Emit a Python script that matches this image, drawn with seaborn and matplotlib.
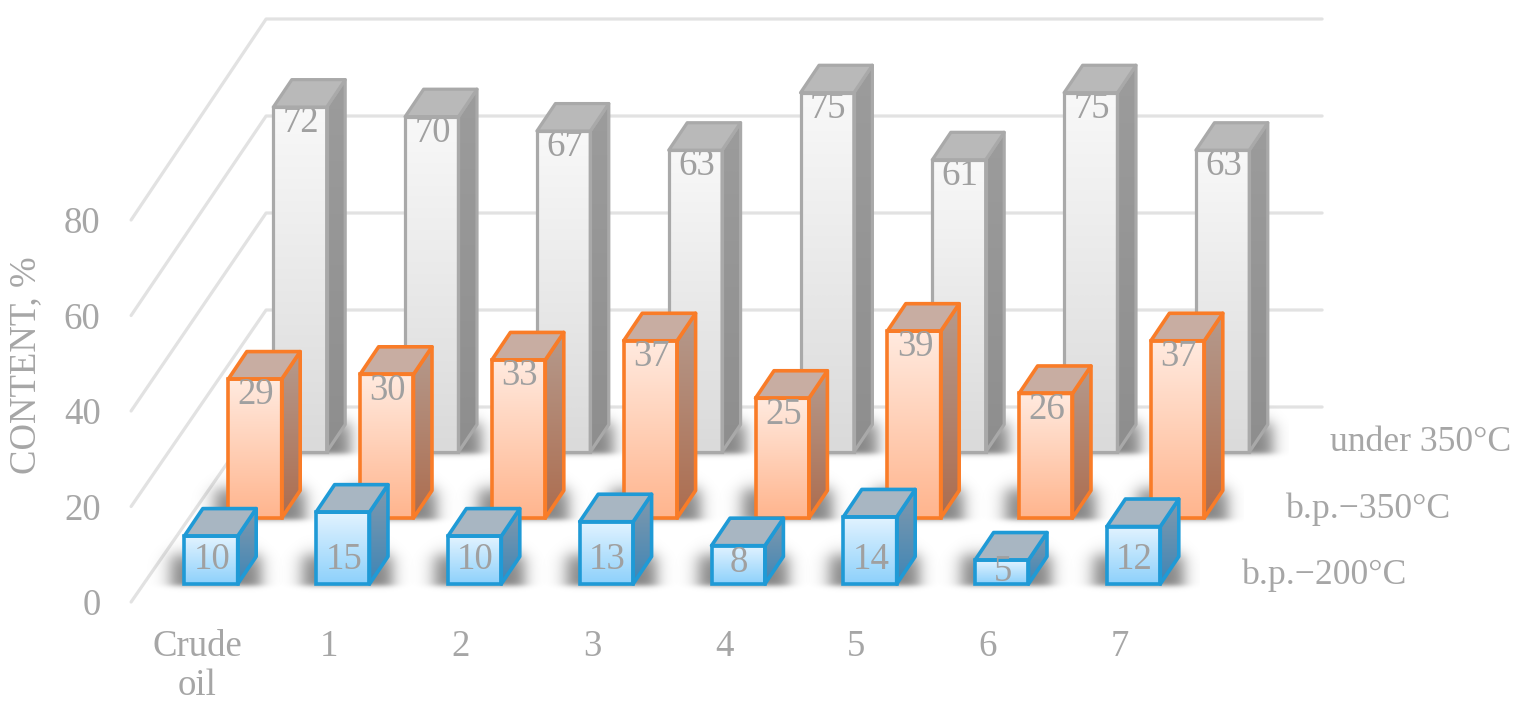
import numpy as np
import pandas as pd
import seaborn as sns
import matplotlib.pyplot as plt
from matplotlib.colors import LinearSegmentedColormap
from matplotlib.patches import Polygon

samples = ["Crude\noil", "1", "2", "3", "4", "5", "6", "7"]
under_350 = [72, 70, 67, 63, 75, 61, 75, 63]
bp_350 = [29, 30, 33, 37, 25, 39, 26, 37]
bp_200 = [10, 15, 10, 13, 8, 14, 5, 12]
y_ticks = [0, 20, 40, 60, 80]

W, H = 1525, 712
STEP = 131.8      # px per category
UNIT = 4.79       # px per % on the bars
BAR = 0.405
DEPTH_X = 18.5 / STEP
DEPTH_Y = 27.5 / UNIT
GREY = "#a6a6a6"
FONT = 26.5

sns.set_theme(style="white")
plt.rcParams["font.family"] = ["Liberation Serif", "DejaVu Serif"]
plt.rcParams["font.size"] = FONT

fig = plt.figure(figsize=(W / 100, H / 100), dpi=100, facecolor="white")


def pixel_axes(first_centre, base_y, zorder, y_low=-10, y_high=90, unit=UNIT):
    left = first_centre - STEP / 2
    bottom = base_y - y_low * unit
    ax = fig.add_axes([left / W, (H - bottom) / H, 8 * STEP / W, (y_high - y_low) * unit / H])
    ax.patch.set_alpha(0)
    ax.set_zorder(zorder)
    return ax


def gradient(ax, clip, x0, x1, y0, y1, top, bottom, z):
    cmap = LinearSegmentedColormap.from_list("g", [top, bottom])
    im = ax.imshow(np.linspace(0, 1, 64)[:, None], extent=(x0, x1, y0, y1), origin="upper",
                   cmap=cmap, aspect="auto", zorder=z, interpolation="bilinear")
    im.set_clip_path(clip)


def shadow(ax, x0, x1):
    # soft floor shadow, built from two smooth steps
    xs = np.linspace(x0 - 50 / STEP, x1 + 50 / STEP, 120)
    ys = np.linspace(-16 / UNIT, 60 / UNIT, 90)
    ax_x = 0.5 * (np.tanh((xs - (x0 - 14 / STEP)) / (10 / STEP)) - np.tanh((xs - (x1 + 5 / STEP)) / (9 / STEP)))
    ax_y = 0.5 * (np.tanh((ys + 2 / UNIT) / (3 / UNIT)) - np.tanh((ys - 29 / UNIT) / (9 / UNIT)))
    rgba = np.zeros((90, 120, 4))
    rgba[..., 3] = 0.48 * np.outer(ax_y, ax_x)
    ax.imshow(rgba, extent=(xs[0], xs[-1], ys[0], ys[-1]), origin="lower", aspect="auto",
              zorder=0, interpolation="bilinear")


# walls and value axis
FRONT_BASE = 602
BACK_BASE = 407
BACK_UNIT = 4.85
FRONT_UNIT = 4.775
bg = pixel_axes(197, FRONT_BASE, 0, y_low=0, y_high=80, unit=FRONT_UNIT)
bg.set_xlim(-0.5, 7.5)
bg.set_ylim(0, 80)
for v in y_ticks:
    back_y = (FRONT_BASE - BACK_BASE + BACK_UNIT * v) / FRONT_UNIT
    back_x = -0.5 + 135 / STEP
    end_x = -0.5 + (1322 - 131) / STEP
    bg.plot([-0.5, back_x, end_x], [v, back_y, back_y], color="#e2e2e2", lw=2.3,
            clip_on=False, solid_joinstyle="round")
sns.despine(ax=bg, left=True, bottom=True, right=True, top=True)
bg.set_yticks(y_ticks)
bg.set_xticks(range(len(samples)))
bg.set_xticklabels(samples, color=GREY, linespacing=1.17)
bg.tick_params(axis="y", length=0, pad=22, labelcolor=GREY, labelsize=FONT)
bg.tick_params(axis="x", length=0, pad=20, labelcolor=GREY, labelsize=FONT)
fig.text(26 / W, 1 - 365 / H, "CONTENT, %", rotation=90, color=GREY, fontsize=FONT, ha="center", va="center")

rows = [
    dict(name="under 350°C", values=under_350, centre=300, base=452, edge="#a9a9a9", lw=2.3,
         front=("#f8f8f8", "#dadada"), side=("#9c9c9c", "#8e8e8e"), top="#b9b9b9", z=1, label_z=3),
    dict(name="b.p.−350°C", values=bp_350, centre=255, base=518, edge="#f97c28", lw=2.6,
         front=("#ffeadf", "#ffb58e"), side=("#b59a8d", "#ad6d4f"), top="#c8ada2", z=2, label_z=7),
    dict(name="b.p.−200°C", values=bp_200, centre=211, base=584, edge="#1f9ad6", lw=2.6,
         front=("#e2f3ff", "#8ed1fb"), side=("#8199ad", "#3f86b6"), top="#a8b6c2", z=3, label_z=7),
]

for row in rows:
    ax = pixel_axes(row["centre"], row["base"], row["z"])
    df = pd.DataFrame({"sample": samples, "content": row["values"]})
    sns.barplot(data=df, x="sample", y="content", ax=ax, width=BAR, color=row["front"][1], saturation=1,
                errorbar=None, edgecolor=row["edge"], linewidth=row["lw"], zorder=5)
    ax.set_xlim(-0.5, 7.5)
    ax.set_ylim(-10, 90)
    for bar, value in zip(ax.patches, row["values"]):
        x0, x1 = bar.get_x(), bar.get_x() + bar.get_width()
        h = bar.get_height()
        shadow(ax, x0, x1 + DEPTH_X)
        bar.set_facecolor("none")
        bar.set_joinstyle("miter")
        gradient(ax, bar, x0, x1, 0, h, row["front"][0], row["front"][1], 2)
        side = Polygon([(x1, 0), (x1 + DEPTH_X, DEPTH_Y), (x1 + DEPTH_X, h + DEPTH_Y), (x1, h)],
                       facecolor="none", edgecolor=row["edge"], lw=row["lw"], zorder=4, joinstyle="round")
        ax.add_patch(side)
        gradient(ax, side, x1, x1 + DEPTH_X, 0, h + DEPTH_Y, row["side"][0], row["side"][1], 2)
        ax.add_patch(Polygon([(x0, h), (x0 + DEPTH_X, h + DEPTH_Y), (x1 + DEPTH_X, h + DEPTH_Y), (x1, h)],
                             facecolor=row["top"], edgecolor=row["edge"], lw=row["lw"], zorder=4,
                             joinstyle="round"))
        # small bars carry the number near the middle, tall ones just under the top
        if h < 20:
            ly = min(h * 0.6 + 2 / UNIT, 28 / UNIT) - 4 / UNIT
        else:
            ly = h - 16 / UNIT
        ax.text((x0 + x1) / 2 + 1 / STEP, ly, str(value), color="#a0a0a0", fontsize=FONT, ha="center",
                va="center", zorder=row["label_z"])
    ax.text(7 + 107 / STEP, 9 / UNIT, row["name"], color=GREY, fontsize=25.7, ha="left", va="center",
            clip_on=False)
    ax.set_xlim(-0.5, 7.5)
    ax.set_ylim(-10, 90)
    ax.axis("off")

fig.savefig("out.png", dpi=100)
